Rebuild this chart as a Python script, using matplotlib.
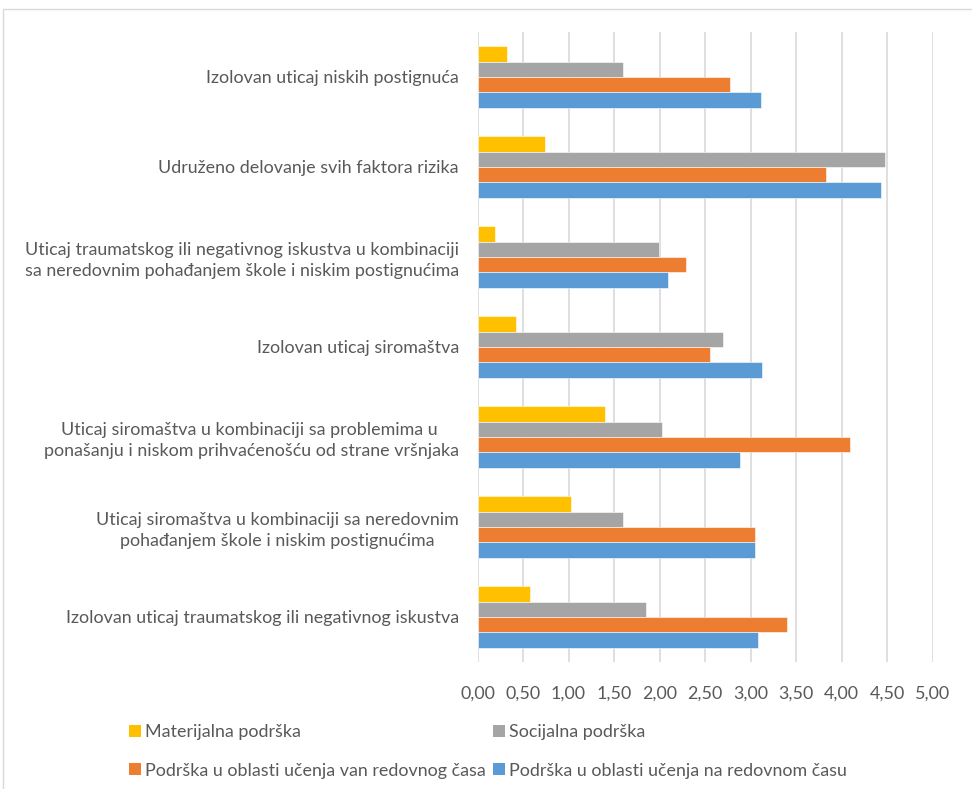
import numpy as np
import matplotlib
matplotlib.use('Agg')
import matplotlib.pyplot as plt
from matplotlib.patches import Rectangle, Patch

# --- DATA ------------------------------------------------------------------
categories = [
    "Izolovan uticaj niskih postignuća",
    "Udruženo delovanje svih faktora rizika",
    "Uticaj traumatskog ili negativnog iskustva u kombinaciji\nsa neredovnim pohađanjem škole i niskim postignućima",
    "Izolovan uticaj siromaštva",
    "Uticaj siromaštva u kombinaciji sa problemima u \nponašanju i niskom prihvaćenošću od strane vršnjaka",
    "Uticaj siromaštva u kombinaciji sa neredovnim\npohađanjem škole i niskim postignućima",
    "Izolovan uticaj traumatskog ili negativnog iskustva",
]
series_names = [
    "Materijalna podrška",
    "Socijalna podrška",
    "Podrška u oblasti učenja van redovnog časa",
    "Podrška u oblasti učenja na redovnom času",
]
materijalna = [0.32, 0.74, 0.19, 0.42, 1.40, 1.03, 0.58]
socijalna = [1.60, 4.48, 1.99, 2.70, 2.03, 1.60, 1.85]
van_redovnog = [2.78, 3.83, 2.29, 2.56, 4.09, 3.05, 3.40]
na_redovnom = [3.11, 4.43, 2.09, 3.13, 2.88, 3.05, 3.08]
x_ticks = [0, 0.5, 1.0, 1.5, 2.0, 2.5, 3.0, 3.5, 4.0, 4.5, 5.0]

# --- STYLE -----------------------------------------------------------------
plt.rcParams['font.family'] = ['Lato', 'DejaVu Sans']
TEXT_COLOR = '#595959'
GRID_COLOR = '#D9D9D9'
colors = ['#FFC000', '#A5A5A5', '#ED7D31', '#5B9BD5']
FS = 12.9

fig = plt.figure(figsize=(9.72, 7.89), dpi=100)
ax = fig.add_axes([477.5 / 972, 1 - 662 / 789, 455 / 972, 630 / 789])

# outer chart frame (cropped at right and bottom)
fig.patches.append(Rectangle((3 / 972, -0.1), 1.2, 1 - 9 / 789 + 0.1,
                             transform=fig.transFigure, fill=False,
                             edgecolor=GRID_COLOR, linewidth=1))

n = len(categories)
y = np.arange(n)[::-1].astype(float)  # first category on top
h = 0.171
all_series = [materijalna, socijalna, van_redovnog, na_redovnom]
offsets = [1.5, 0.5, -0.5, -1.5]
for vals, off, col in zip(all_series, offsets, colors):
    ax.barh(y + off * h, vals, height=h, color=col, edgecolor='white',
            linewidth=0.4, zorder=3)

ax.set_xlim(0, 5)
ax.set_ylim(-0.5, n - 0.5)
ax.set_xticks(x_ticks)
ax.set_xticklabels([f"{t:.2f}".replace('.', ',') for t in x_ticks])
ax.set_yticks(y)
ax.set_yticklabels(categories, multialignment='center', linespacing=1.35)

ax.tick_params(axis='both', length=0, colors=TEXT_COLOR, labelsize=FS)
ax.tick_params(axis='x', pad=17)
ax.tick_params(axis='y', pad=13.5)
for s in ax.spines.values():
    s.set_visible(False)
ax.grid(axis='x', color=GRID_COLOR, linewidth=1.2, zorder=0)
ax.set_axisbelow(True)

# legend is filled column by column: order so rows read as in the original
handles = [Patch(facecolor=c, edgecolor='none') for c in colors]
order = [0, 2, 1, 3]
fig.legend([handles[i] for i in order], [series_names[i] for i in order],
           ncol=2, loc='upper left',
           bbox_to_anchor=(122 / 972, 1 - 717 / 789), frameon=False,
           fontsize=FS, labelcolor=TEXT_COLOR, handlelength=0.65,
           handleheight=0.65, handletextpad=0.25, columnspacing=0.4,
           labelspacing=1.25, borderaxespad=0)

fig.savefig('out.png', dpi=100)
